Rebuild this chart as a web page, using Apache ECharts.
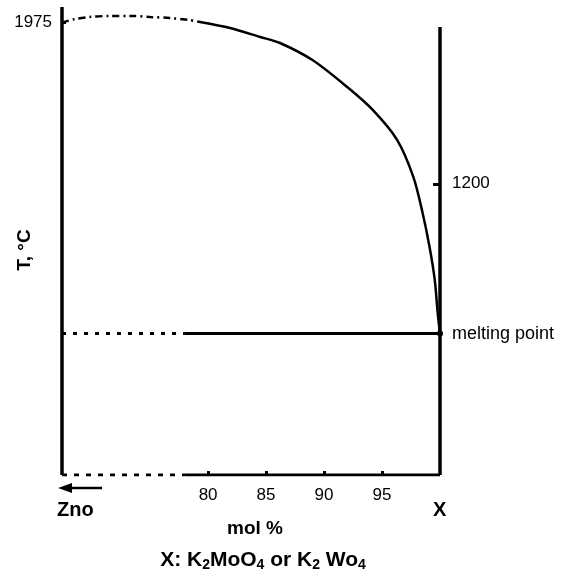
<!DOCTYPE html>
<html>
<head>
<meta charset="utf-8">
<script src="https://cdn.jsdelivr.net/npm/echarts@6/dist/echarts.min.js"></script>
<style>
  html, body { margin: 0; padding: 0; background: #fff; }
  #chart { width: 567px; height: 577px; }
</style>
</head>
<body>
<div id="chart"></div>
<script>
// axis range (mol % of X, temperature in °C)
var xMin = 67.4, xMax = 100;
var tMin = -200, tMax = 2050;
var rightAxisTop = 1954;

var molTicks = [80, 85, 90, 95];
var tLeftTicks = [1975];
var tRightTicks = [1200];
var meltingPoint = 480;
var eutecticStart = 78;

// liquidus, dashed (extrapolated) part near ZnO
var liquidusDashX = [67.4, 68.5, 69.8, 71.5, 73.3, 75.0, 76.7, 78.4, 79.3];
var liquidusDashT = [1975, 1992, 2002, 2007, 2007, 2002, 1997, 1987, 1978];
// liquidus, measured part
var liquidusX = [79.3, 81.9, 84.5, 86.2, 89.0, 92.0, 94.2, 96.3, 97.7, 98.5, 99.1, 99.55, 99.8, 100];
var liquidusT = [1978, 1949, 1906, 1877, 1795, 1665, 1555, 1411, 1233, 1060, 896, 737, 579, 480];

function pairs(xs, ys) {
  return xs.map(function (x, i) { return [x, ys[i]]; });
}

var font = 'Liberation Sans, Arial, sans-serif';
var chart = echarts.init(document.getElementById('chart'));

var option = {
  animation: false,
  backgroundColor: '#fff',
  textStyle: { fontFamily: font, color: '#000' },
  grid: { left: 62, right: 127, top: 7, bottom: 102, outerBoundsMode: 'none', containLabel: false },
  title: {
    left: 258, top: 543, textAlign: 'center',
    text: 'X: K{s|2}MoO{s|4} or K{s|2} Wo{s|4}',
    textStyle: {
      fontFamily: font, fontSize: 21, fontWeight: 'bold', color: '#000',
      rich: {
        s: { fontFamily: font, fontSize: 14, fontWeight: 'bold', color: '#000', padding: [10, 0, 0, 0] }
      }
    }
  },
  xAxis: {
    type: 'value', min: xMin, max: xMax,
    name: 'mol %', nameLocation: 'middle', nameGap: 44,
    nameTextStyle: { fontSize: 19, fontWeight: 'bold', color: '#000', fontFamily: font, padding: [0, 0, 0, 8] },
    axisLine: { show: false, onZero: false },
    splitLine: { show: false },
    axisTick: { show: true, inside: true, length: 4, customValues: molTicks, lineStyle: { color: '#000', width: 3 } },
    axisLabel: {
      customValues: molTicks, color: '#000', fontSize: 17, margin: 12, fontFamily: font,
      formatter: function (v) { return String(v); }
    }
  },
  yAxis: [
    {
      type: 'value', min: tMin, max: tMax, position: 'left',
      axisLine: { show: false, onZero: false },
      splitLine: { show: false },
      axisTick: { show: true, inside: true, length: 4, customValues: tLeftTicks, lineStyle: { color: '#000', width: 3 } },
      axisLabel: {
        customValues: tLeftTicks, color: '#000', fontSize: 17, margin: 10, fontFamily: font,
        formatter: function (v) { return String(v); }
      }
    },
    {
      type: 'value', min: tMin, max: tMax, position: 'right',
      axisLine: { show: false, onZero: false },
      splitLine: { show: false },
      axisTick: { show: true, inside: true, length: 7, customValues: tRightTicks, lineStyle: { color: '#000', width: 3 } },
      axisLabel: {
        customValues: tRightTicks, color: '#000', fontSize: 17, margin: 12, fontFamily: font,
        formatter: function (v) { return String(v); }
      }
    }
  ],
  series: [
    // frame: left and right verticals, bottom line
    {
      type: 'line', symbol: 'none', silent: true,
      lineStyle: { color: '#000', width: 3.5 },
      data: [[xMin, tMax], [xMin, tMin]]
    },
    {
      type: 'line', symbol: 'none', silent: true,
      lineStyle: { color: '#000', width: 3.5 },
      data: [[xMax, rightAxisTop], [xMax, tMin]]
    },
    {
      type: 'line', symbol: 'none', silent: true,
      lineStyle: { color: '#000', width: 3, type: [5, 7] },
      data: [[xMin, tMin], [eutecticStart, tMin]]
    },
    {
      type: 'line', symbol: 'none', silent: true,
      lineStyle: { color: '#000', width: 3 },
      data: [[eutecticStart, tMin], [xMax, tMin]]
    },
    // liquidus
    {
      type: 'line', symbol: 'none', smooth: 0.3, silent: true,
      lineStyle: { color: '#000', width: 2.5, type: [7, 4, 2, 4] },
      data: pairs(liquidusDashX, liquidusDashT)
    },
    {
      type: 'line', symbol: 'none', smooth: 0.3, silent: true,
      lineStyle: { color: '#000', width: 2.5 },
      data: pairs(liquidusX, liquidusT)
    },
    // melting point / eutectic line
    {
      type: 'line', symbol: 'none', silent: true,
      lineStyle: { color: '#000', width: 3, type: [4, 7] },
      data: [[xMin, meltingPoint], [eutecticStart, meltingPoint]]
    },
    {
      type: 'line', silent: true,
      symbol: 'circle', symbolSize: 6, showSymbol: true,
      itemStyle: { color: '#000' },
      lineStyle: { color: '#000', width: 3 },
      data: [
        { value: [eutecticStart, meltingPoint], symbol: 'none' },
        {
          value: [xMax, meltingPoint],
          label: { show: true, position: 'right', distance: 9, formatter: 'melting point', color: '#000', fontSize: 18, fontFamily: font }
        }
      ]
    }
  ],
  graphic: [
    // y axis title
    {
      type: 'text', x: 25, y: 250, rotation: Math.PI / 2,
      style: { text: 'T, °C', fontSize: 19, fontWeight: 'bold', fill: '#000', fontFamily: font, align: 'center', verticalAlign: 'middle' }
    },
    {
      type: 'text', left: 57, top: 500,
      style: { text: 'Zno', fontSize: 20, fontWeight: 'bold', fill: '#000', fontFamily: font }
    },
    {
      type: 'text', left: 433, top: 500,
      style: { text: 'X', fontSize: 20, fontWeight: 'bold', fill: '#000', fontFamily: font }
    },
    {
      type: 'line',
      shape: { x1: 70, y1: 488, x2: 102, y2: 488 },
      style: { stroke: '#000', lineWidth: 2.5 }
    },
    {
      type: 'polygon',
      shape: { points: [[58, 488], [72, 483], [72, 493]] },
      style: { fill: '#000' }
    }
  ]
};

chart.setOption(option);
</script>
</body>
</html>
